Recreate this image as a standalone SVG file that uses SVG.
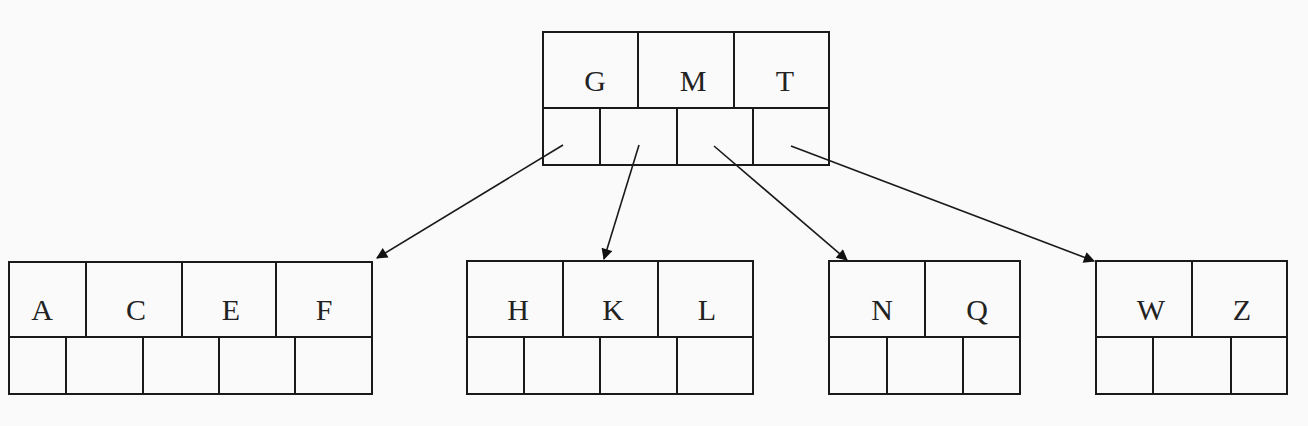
<svg xmlns="http://www.w3.org/2000/svg" width="1308" height="426" viewBox="0 0 1308 426">
<defs>
<style>
.box{fill:none;stroke:#1a1a1a;stroke-width:2}
.ln{stroke:#1a1a1a;stroke-width:2}
.lbl{font-family:"Liberation Serif","Times New Roman",serif;font-size:30px;fill:#222;text-anchor:middle}
.con{stroke:#1a1a1a;stroke-width:1.6;fill:none;marker-end:url(#arr)}
</style>
<marker id="arr" viewBox="0 0 10 10" refX="9" refY="5" markerWidth="8" markerHeight="7" orient="auto" markerUnits="strokeWidth">
<path d="M0,0 L10,5 L0,10 z" fill="#111"/>
</marker>
</defs>
<rect width="1308" height="426" fill="#fafafa"/>
<g id="root">
<rect class="box" x="543" y="32" width="286" height="133"/>
<line class="ln" x1="543" y1="108" x2="829" y2="108"/>
<line class="ln" x1="638" y1="32" x2="638" y2="108"/>
<line class="ln" x1="734" y1="32" x2="734" y2="108"/>
<line class="ln" x1="600" y1="108" x2="600" y2="165"/>
<line class="ln" x1="677" y1="108" x2="677" y2="165"/>
<line class="ln" x1="753" y1="108" x2="753" y2="165"/>
<text class="lbl" x="595" y="91">G</text>
<text class="lbl" x="693" y="91">M</text>
<text class="lbl" x="785" y="91">T</text>
</g>
<g id="node-acef">
<rect class="box" x="9" y="262" width="363" height="132"/>
<line class="ln" x1="9" y1="337" x2="372" y2="337"/>
<line class="ln" x1="86" y1="262" x2="86" y2="337"/>
<line class="ln" x1="182" y1="262" x2="182" y2="337"/>
<line class="ln" x1="276" y1="262" x2="276" y2="337"/>
<line class="ln" x1="66" y1="337" x2="66" y2="394"/>
<line class="ln" x1="143" y1="337" x2="143" y2="394"/>
<line class="ln" x1="219" y1="337" x2="219" y2="394"/>
<line class="ln" x1="295" y1="337" x2="295" y2="394"/>
<text class="lbl" x="42" y="320">A</text>
<text class="lbl" x="136" y="320">C</text>
<text class="lbl" x="231" y="320">E</text>
<text class="lbl" x="324" y="320">F</text>
</g>
<g id="node-hkl">
<rect class="box" x="467" y="261" width="286" height="133"/>
<line class="ln" x1="467" y1="337" x2="753" y2="337"/>
<line class="ln" x1="563" y1="261" x2="563" y2="337"/>
<line class="ln" x1="658" y1="261" x2="658" y2="337"/>
<line class="ln" x1="524" y1="337" x2="524" y2="394"/>
<line class="ln" x1="600" y1="337" x2="600" y2="394"/>
<line class="ln" x1="677" y1="337" x2="677" y2="394"/>
<text class="lbl" x="518" y="320">H</text>
<text class="lbl" x="613" y="320">K</text>
<text class="lbl" x="707" y="320">L</text>
</g>
<g id="node-nq">
<rect class="box" x="829" y="261" width="191" height="133"/>
<line class="ln" x1="829" y1="337" x2="1020" y2="337"/>
<line class="ln" x1="925" y1="261" x2="925" y2="337"/>
<line class="ln" x1="887" y1="337" x2="887" y2="394"/>
<line class="ln" x1="963" y1="337" x2="963" y2="394"/>
<text class="lbl" x="882" y="320">N</text>
<text class="lbl" x="977" y="320">Q</text>
</g>
<g id="node-wz">
<rect class="box" x="1096" y="261" width="191" height="133"/>
<line class="ln" x1="1096" y1="337" x2="1287" y2="337"/>
<line class="ln" x1="1192" y1="261" x2="1192" y2="337"/>
<line class="ln" x1="1153" y1="337" x2="1153" y2="394"/>
<line class="ln" x1="1231" y1="337" x2="1231" y2="394"/>
<text class="lbl" x="1151" y="320">W</text>
<text class="lbl" x="1242" y="320">Z</text>
</g>
<g id="connectors">
<line class="con" x1="563" y1="145" x2="377" y2="258"/>
<line class="con" x1="639" y1="145" x2="604" y2="259"/>
<line class="con" x1="714" y1="146" x2="847" y2="260"/>
<line class="con" x1="791" y1="146" x2="1094" y2="261"/>
</g>
</svg>
